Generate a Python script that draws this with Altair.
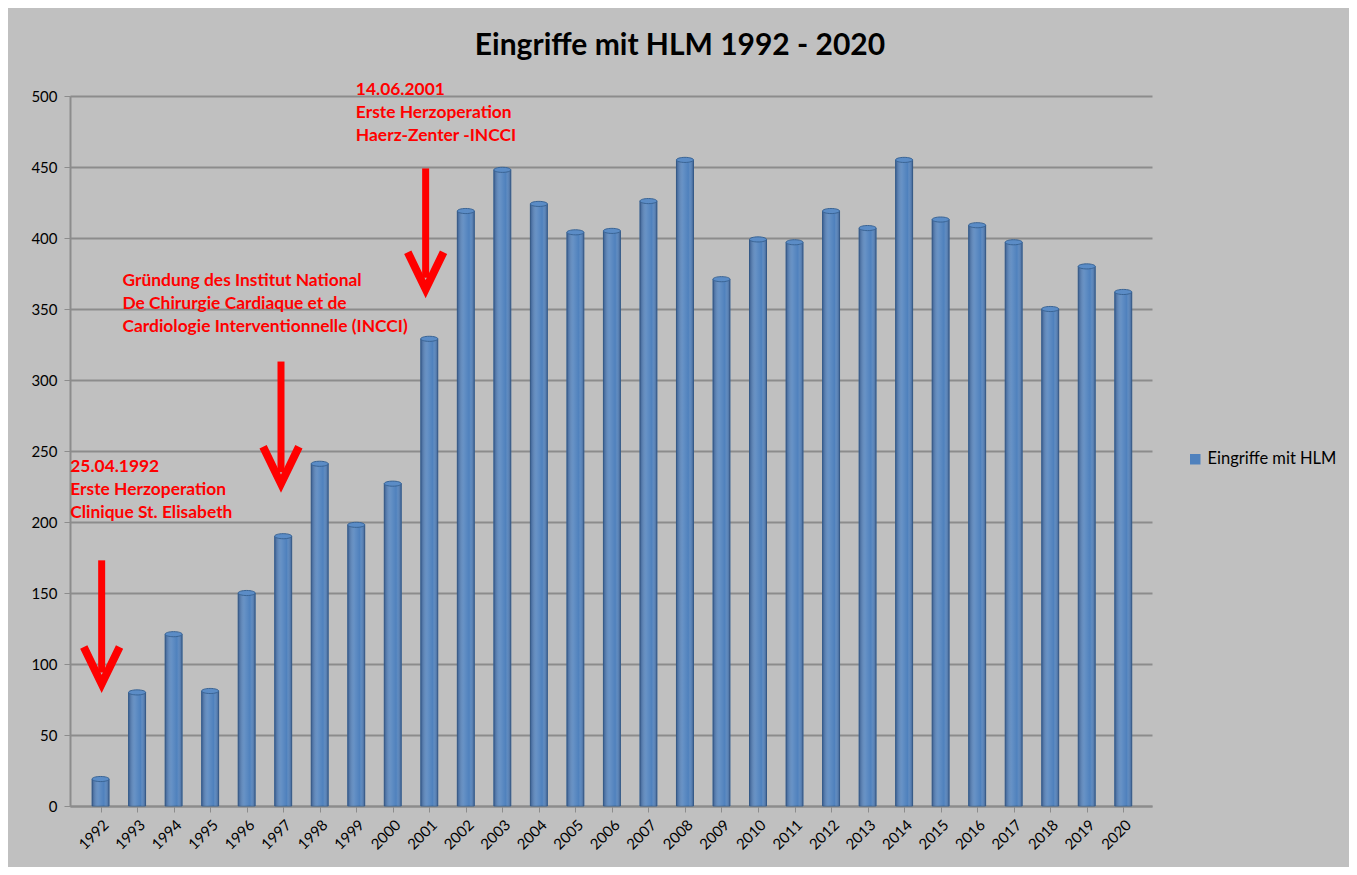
import altair as alt
import pandas as pd

# ---------------- data ----------------
years = list(range(1992, 2021))
values = [19, 80, 121, 81, 150, 190, 241, 198, 227, 329,
          419, 448, 424, 404, 405, 426, 455, 371, 399, 397,
          419, 407, 455, 413, 409, 397, 350, 380, 362]
series_name = "Eingriffe mit HLM"
title_text = "Eingriffe mit HLM 1992 - 2020"

ann_x = [1991.17, 1992.6, 1998.99]
ann_y = [239, 370, 504]
ann_lines = [
    ["25.04.1992", "Erste Herzoperation", "Clinique St. Elisabeth"],
    ["Gründung des Institut National", "De Chirurgie Cardiaque et de",
     "Cardiologie Interventionnelle (INCCI)"],
    ["14.06.2001", "Erste Herzoperation", "Haerz-Zenter -INCCI"],
]

arrow_x = [1992.03, 1996.94, 2000.9]
arrow_top = [173, 313, 449]
arrow_tip = [86, 227, 364]

# ---------------- tables ----------------
bars = pd.DataFrame({"Jahr": years, "Wert": values, "Serie": series_name})

ann = pd.DataFrame({"Jahr": ann_x, "Wert": ann_y, "txt": ann_lines})

shaft = pd.DataFrame({"Jahr": arrow_x, "Wert": arrow_top,
                      "Wert2": [t + 8 for t in arrow_tip]})

head_dx = 0.49
head_dy = 26
rows = []
for i, (ax, tip) in enumerate(zip(arrow_x, arrow_tip)):
    rows.append({"id": i, "o": 0, "Jahr": ax - head_dx, "Wert": tip + head_dy})
    rows.append({"id": i, "o": 1, "Jahr": ax, "Wert": tip})
    rows.append({"id": i, "o": 2, "Jahr": ax + head_dx, "Wert": tip + head_dy})
head = pd.DataFrame(rows)

# ---------------- scales / axes ----------------
xscale = alt.Scale(domain=[1991.3, 2020.65], nice=False, zero=False)
yscale = alt.Scale(domain=[0, 500], nice=False)

FONT = "Lato"

x_axis = alt.Axis(values=years, format="d", labelAngle=-45, tickCount=29,
                  labelFontSize=15, labelFont=FONT, labelColor="#000000",
                  labelOverlap=False, labelBound=False, labelFlush=False,
                  grid=False, domainColor="#8c8c8c", domainWidth=2,
                  tickColor="#8c8c8c", tickSize=6, title=None, labelPadding=5)
y_axis = alt.Axis(values=list(range(0, 501, 50)), labelFontSize=15,
                  labelFont=FONT, labelColor="#000000",
                  gridColor="#8c8c8c", gridWidth=2,
                  domainColor="#8c8c8c", domainWidth=2,
                  tickColor="#8c8c8c", tickSize=6, labelPadding=7, title=None)


def X():
    return alt.X("Jahr:Q", scale=xscale, axis=x_axis)


def Y(field="Wert:Q"):
    return alt.Y(field, scale=yscale, axis=y_axis)


bar_layer = alt.Chart(bars).mark_bar(size=17, stroke="#3a6494", strokeWidth=1).encode(
    x=X(),
    y=Y(),
    color=alt.Color("Serie:N", scale=alt.Scale(range=["#4f81bd"]),
                    legend=alt.Legend(title=None, orient="none", legendX=1117,
                                      legendY=355, symbolType="square",
                                      symbolSize=110, labelFontSize=16.5,
                                      labelFont=FONT, labelColor="#000000",
                                      symbolStrokeWidth=0)),
)

shade = alt.Chart(bars).mark_bar(
    size=17,
    fill=alt.Gradient(
        gradient="linear", x1=0, y1=0, x2=1, y2=0,
        stops=[alt.GradientStop(offset=0, color="rgba(30,50,90,0.45)"),
               alt.GradientStop(offset=0.4, color="rgba(255,255,255,0.12)"),
               alt.GradientStop(offset=0.7, color="rgba(255,255,255,0.0)"),
               alt.GradientStop(offset=1, color="rgba(30,50,90,0.45)")]),
).encode(x=X(), y=Y())

tops = alt.Chart(bars).mark_point(
    shape="M -1 0 A 1 0.3 0 1 0 1 0 A 1 0.3 0 1 0 -1 0 Z",
    size=289, filled=True, fill="#5b8cc6", stroke="#3a6494",
    strokeWidth=1, opacity=1,
).encode(x=X(), y=Y())

text_layer = alt.Chart(ann).mark_text(
    align="left", baseline="middle", font=FONT, fontWeight="bold",
    fontSize=17.4, color="#ff0000", lineHeight=23,
).encode(x=X(), y=Y(), text="txt")

shaft_layer = alt.Chart(shaft).mark_rule(color="#ff0000", strokeWidth=7).encode(
    x=X(), y=Y(), y2="Wert2:Q")

head_layer = alt.Chart(head).mark_line(
    color="#ff0000", strokeWidth=8, strokeJoin="miter", strokeCap="butt"
).encode(x=X(), y=Y(), detail="id:N", order="o:Q")

chart = alt.layer(bar_layer, shade, tops, shaft_layer, head_layer, text_layer).properties(
    width=1082, height=710,
    title=alt.TitleParams(title_text, fontSize=30, font=FONT, fontWeight="bold",
                          anchor="middle", dx=69, offset=20, color="#000000"),
    autosize=alt.AutoSizeParams(type="none"),
    padding={"left": 62, "top": 88, "right": 197, "bottom": 61},
).configure(background="#c0c0c0").configure_view(stroke=None)

chart.save("out.html", embed_options={"renderer": "svg", "actions": False})
